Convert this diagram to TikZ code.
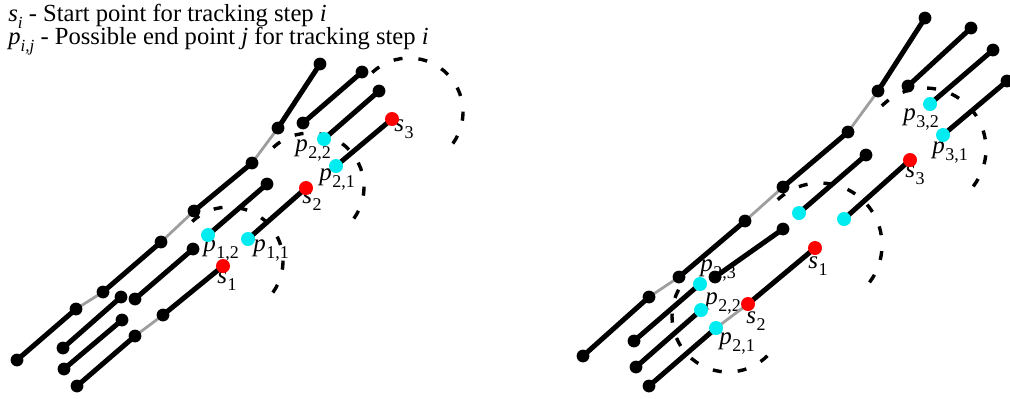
\documentclass[tikz,border=0pt]{standalone}
\usepackage{fontspec}
\setmainfont{Liberation Serif}
\usetikzlibrary{backgrounds}

\definecolor{ptcyan}{RGB}{0,236,240}
\definecolor{ptred}{RGB}{255,0,0}

% italic point name with an upright index below it
\newcommand{\ptlab}[2]{\textit{#1}\kern0.02em\raisebox{-0.28em}{\fontsize{9}{11}\selectfont #2}}

\tikzset{
  dot/.style={circle, fill=black, inner sep=0pt, minimum size=6.4pt},
  startpt/.style={dot, fill=ptred, minimum size=7pt},
  endpt/.style={dot, fill=ptcyan, minimum size=7pt},
  track/.style={line width=2.5pt},
  link/.style={line width=1.4pt, black!38},
  search/.style={line width=1.7pt, dash pattern=on 4.5pt off 8pt},
  lab/.style={inner sep=0pt, font=\fontsize{12.5}{15}\selectfont},
  legend/.style={inner sep=0pt, anchor=base west, font=\fontsize{12.3}{14}\selectfont},
}

\begin{document}
\begin{tikzpicture}[x=0.5pt, y=-0.5pt]
\useasboundingbox (0,0) rectangle (1010,398);

% ---------- legend ----------
\node[legend] (leg1) at (8,21) {\textit{s}\raisebox{-0.3em}{\fontsize{8.5}{10}\selectfont\textit{i}} - Start point for tracking step \textit{i}};
\node[legend] (leg2) at (8,44) {\textit{p}\raisebox{-0.3em}{\fontsize{8.5}{10}\selectfont\textit{i,j}} - Possible end point \textit{j} for tracking step \textit{i}};

% ---------- left panel: points ----------
\node[dot] (La1) at (17,360) {};
\node[dot] (La2) at (76,309) {};
\node[dot] (La3) at (103,292) {};
\node[dot] (La4) at (161,242) {};
\node[dot] (La5) at (194,211) {};
\node[dot] (La6) at (252,163) {};
\node[dot] (La7) at (278,128) {};
\node[dot] (La8) at (320,64) {};
\node[dot] (Lb1) at (63,348) {};
\node[dot] (Lb2) at (121,297) {};
\node[dot] (Lc1) at (135,299) {};
\node[dot] (Lc2) at (193,249) {};
\node[dot] (Ld1) at (64,369) {};
\node[dot] (Ld2) at (122,320) {};
\node[dot] (Le1) at (77,386) {};
\node[dot] (Le2) at (135,336) {};
\node[dot] (Le3) at (163,315) {};
\node[startpt] (Ls1) at (223,266) {};
\node[endpt] (Lp11) at (248,239) {};
\node[startpt] (Ls2) at (306,188) {};
\node[endpt] (Lp12) at (208,235) {};
\node[dot] (Lq) at (267,184) {};
\node[endpt] (Lp21) at (336,166) {};
\node[startpt] (Ls3) at (392,119) {};
\node[endpt] (Lp22) at (324,139) {};
\node[dot] (Lh) at (379,91) {};
\node[dot] (Li1) at (303,123) {};
\node[dot] (Li2) at (362,72) {};

% ---------- right panel: points ----------
\node[dot] (Ra1) at (583,356) {};
\node[dot] (Ra2) at (649,297) {};
\node[dot] (Ra3) at (679,277) {};
\node[dot] (Ra4) at (745,221) {};
\node[dot] (Ra5) at (783,187) {};
\node[dot] (Ra6) at (848,132) {};
\node[dot] (Ra7) at (878,91) {};
\node[dot] (Ra8) at (925,18) {};
\node[dot] (Rb1) at (634,341) {};
\node[endpt] (Rp23) at (700,284) {};
\node[dot] (Rc1) at (715,277) {};
\node[dot] (Rc2) at (783,229) {};
\node[dot] (Rd1) at (636,367) {};
\node[endpt] (Rp22) at (701,310) {};
\node[dot] (Re1) at (649,386) {};
\node[endpt] (Rp21) at (716,328) {};
\node[startpt] (Rs2) at (748,304) {};
\node[startpt] (Rs1) at (815,248) {};
\node[endpt] (Rp12) at (799,213) {};
\node[dot] (Rq) at (866,155) {};
\node[endpt] (Rp11) at (844,219) {};
\node[startpt] (Rs3) at (910,160) {};
\node[endpt] (Rp32) at (930,104) {};
\node[dot] (Rh) at (993,50) {};
\node[dot] (Ri1) at (908,86) {};
\node[dot] (Ri2) at (971,28) {};
\node[endpt] (Rp31) at (943,135) {};
\node[dot] (Rg) at (1007,81) {};

% centres of the search regions
\coordinate (Lr1) at (229,261);
\coordinate (Lr2) at (310,187);
\coordinate (Lr3) at (409,112);
\coordinate (Rr1) at (820,245);
\coordinate (Rr2) at (728,316);
\coordinate (Rr3) at (925,149);

\begin{scope}[on background layer]
  % point labels
  \node[lab] (Ls1l) at (227,281) {\ptlab{s}{1}};
  \node[lab] (Lp12l) at (221,250) {\ptlab{p}{1,2}};
  \node[lab] (Lp11l) at (271,250) {\ptlab{p}{1,1}};
  \node[lab] (Ls2l) at (312,201) {\ptlab{s}{2}};
  \node[lab] (Lp21l) at (337,179) {\ptlab{p}{2,1}};
  \node[lab] (Lp22l) at (313,150) {\ptlab{p}{2,2}};
  \node[lab] (Ls3l) at (404,129) {\ptlab{s}{3}};
  \node[lab] (Rp32l) at (921,119) {\ptlab{p}{3,2}};
  \node[lab] (Rp31l) at (950,152) {\ptlab{p}{3,1}};
  \node[lab] (Rs3l) at (915,175) {\ptlab{s}{3}};
  \node[lab] (Rs1l) at (818,266) {\ptlab{s}{1}};
  \node[lab] (Rp23l) at (718,270) {\ptlab{p}{2,3}};
  \node[lab] (Rp22l) at (723,303) {\ptlab{p}{2,2}};
  \node[lab] (Rs2l) at (756,321) {\ptlab{s}{2}};
  \node[lab] (Rp21l) at (737,343) {\ptlab{p}{2,1}};

  % search regions
  \draw[search] ([shift={(-133:54)}]Lr1) arc[start angle=-133, end angle=47, radius=54];
  \draw[search] ([shift={(-133:54)}]Lr2) arc[start angle=-133, end angle=47, radius=54];
  \draw[search] ([shift={(-133:54)}]Lr3) arc[start angle=-133, end angle=47, radius=54];
  \draw[search] ([shift={(-133:62)}]Rr1) arc[start angle=-133, end angle=47, radius=62];
  \draw[search] ([shift={(-152:56)}]Rr2) arc[start angle=-152, end angle=-320, radius=56];
  \draw[search] ([shift={(-135:61)}]Rr3) arc[start angle=-135, end angle=50, radius=61];

  % left panel tracks
  \draw[track] (La1.center) -- (La2.center);
  \draw[link]  (La2.center) -- (La3.center);
  \draw[track] (La3.center) -- (La4.center);
  \draw[link]  (La4.center) -- (La5.center);
  \draw[track] (La5.center) -- (La6.center);
  \draw[link]  (La6.center) -- (La7.center);
  \draw[track] (La7.center) -- (La8.center);
  \draw[track] (Lb1.center) -- (Lb2.center);
  \draw[track] (Lc1.center) -- (Lc2.center);
  \draw[track] (Ld1.center) -- (Ld2.center);
  \draw[track] (Le1.center) -- (Le2.center);
  \draw[link]  (Le2.center) -- (Le3.center);
  \draw[track] (Le3.center) -- (Ls1.center);
  \draw[track] (Lp11.center) -- (Ls2.center);
  \draw[track] (Lp12.center) -- (Lq.center);
  \draw[track] (Lp21.center) -- (Ls3.center);
  \draw[track] (Lp22.center) -- (Lh.center);
  \draw[track] (Li1.center) -- (Li2.center);

  % right panel tracks
  \draw[track] (Ra1.center) -- (Ra2.center);
  \draw[link]  (Ra2.center) -- (Ra3.center);
  \draw[track] (Ra3.center) -- (Ra4.center);
  \draw[link]  (Ra4.center) -- (Ra5.center);
  \draw[track] (Ra5.center) -- (Ra6.center);
  \draw[link]  (Ra6.center) -- (Ra7.center);
  \draw[track] (Ra7.center) -- (Ra8.center);
  \draw[track] (Rb1.center) -- (Rp23.center);
  \draw[track] (Rc1.center) -- (Rc2.center);
  \draw[track] (Rd1.center) -- (Rp22.center);
  \draw[track] (Re1.center) -- (Rp21.center);
  \draw[link]  (Rp21.center) -- (Rs2.center);
  \draw[track] (Rs2.center) -- (Rs1.center);
  \draw[track] (Rp12.center) -- (Rq.center);
  \draw[track] (Rp11.center) -- (Rs3.center);
  \draw[track] (Rp32.center) -- (Rh.center);
  \draw[track] (Ri1.center) -- (Ri2.center);
  \draw[track] (Rp31.center) -- (Rg.center);
\end{scope}
\end{tikzpicture}
\end{document}
